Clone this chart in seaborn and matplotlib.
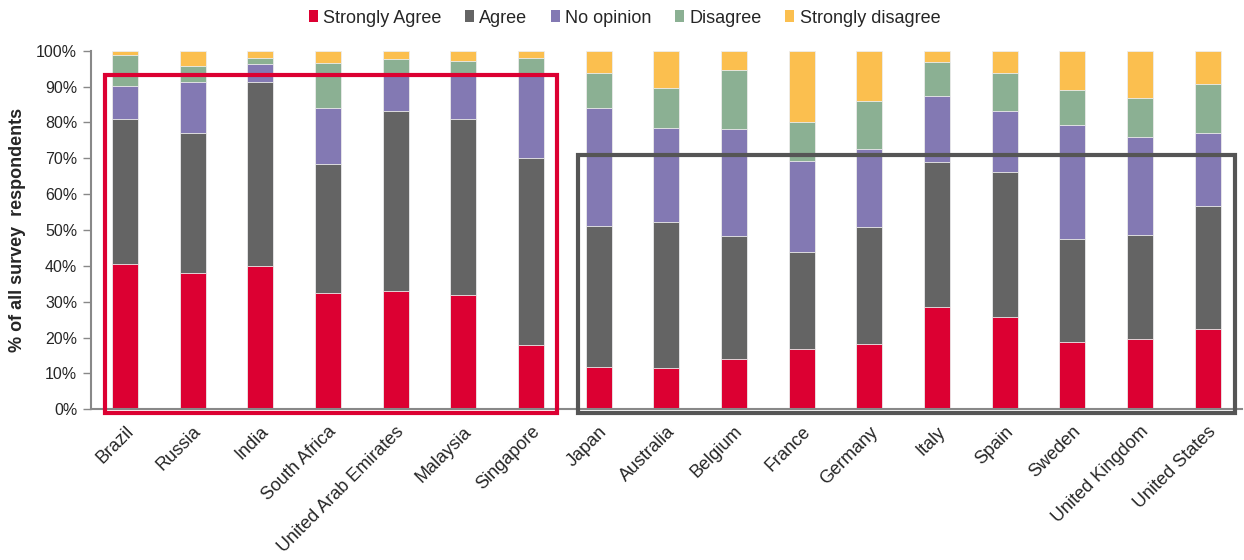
import numpy as np
import pandas as pd
import matplotlib
matplotlib.use("Agg")
import matplotlib.pyplot as plt
from matplotlib.patches import Patch, Rectangle
import seaborn as sns

countries = ["Brazil", "Russia", "India", "South Africa", "United Arab Emirates",
             "Malaysia", "Singapore", "Japan", "Australia", "Belgium", "France",
             "Germany", "Italy", "Spain", "Sweden", "United Kingdom", "United States"]

strongly_agree = [40.6, 37.9, 39.9, 32.5, 32.9, 31.8, 17.8, 11.9, 11.6, 13.9,
                  16.9, 18.1, 28.6, 25.8, 18.9, 19.7, 22.5]
agree = [40.3, 39.2, 51.5, 36.0, 50.4, 49.1, 52.4, 39.2, 40.7, 34.5,
         26.9, 32.6, 40.4, 40.5, 28.7, 29.0, 34.3]
no_opinion = [9.3, 14.3, 5.0, 15.6, 9.7, 12.0, 23.0, 33.0, 26.2, 29.9,
              25.3, 21.8, 18.5, 17.0, 31.8, 27.2, 20.3]
disagree = [8.6, 4.4, 1.6, 12.4, 4.7, 4.3, 4.8, 9.7, 11.0, 16.3,
            11.1, 13.6, 9.4, 10.5, 9.7, 11.0, 13.7]
strongly_disagree = [1.2, 4.2, 2.0, 3.5, 2.3, 2.8, 2.0, 6.2, 10.5, 5.4,
                     19.8, 13.9, 3.1, 6.2, 10.9, 13.1, 9.2]

series_names = ["Strongly Agree", "Agree", "No opinion", "Disagree", "Strongly disagree"]
series_colors = ["#DC0032", "#646464", "#8379B3", "#8BB093", "#FBBF4F"]

sns.set_theme(style="white")
plt.rcParams["font.family"] = ["Liberation Sans", "DejaVu Sans"]

df = pd.DataFrame({
    "country": countries,
    "Strongly Agree": strongly_agree,
    "Agree": agree,
    "No opinion": no_opinion,
    "Disagree": disagree,
    "Strongly disagree": strongly_disagree,
})
cum = df[series_names].cumsum(axis=1)

fig = plt.figure(figsize=(12.44, 5.6), dpi=100)
ax = fig.add_axes([0.0732, 0.2691, 0.9248, 0.6404])

# stacked bars: draw cumulative totals from the top segment down
for name, color in reversed(list(zip(series_names, series_colors))):
    sns.barplot(x=df["country"], y=cum[name], color=color, width=0.385,
                saturation=1, edgecolor="#EDEDED", linewidth=0.6, ax=ax, zorder=2)

ax.set_xlim(-0.5, len(countries) - 0.5)
ax.set_ylim(0, 100)
ax.set_yticks(np.arange(0, 101, 10))
ax.set_yticklabels([f"{v}%" for v in range(0, 101, 10)], fontsize=11.5)
ax.set_xticks(range(len(countries)))
ax.set_xticklabels(countries, rotation=45, ha="right", va="top",
                   rotation_mode="anchor", fontsize=13)
ax.set_xticks(np.arange(-0.5, len(countries), 1.0), minor=True)
ax.tick_params(axis="x", which="major", length=0, pad=10)
ax.tick_params(axis="x", which="minor", length=4, color="#888888", width=1)
ax.tick_params(axis="y", length=6, color="#888888", width=1, pad=4, left=True)
ax.set_xlabel("")
ax.set_ylabel("% of all survey  respondents", fontsize=13, fontweight="bold", labelpad=7)
for s in ["top", "right"]:
    ax.spines[s].set_visible(False)
for s in ["left", "bottom"]:
    ax.spines[s].set_color("#888888")
    ax.spines[s].set_linewidth(1.5)

# highlight frames around the two country groups
ax.add_patch(Rectangle((-0.293, -1.0), 6.676, 94.2, fill=False, edgecolor="#DC0032",
                       linewidth=3, clip_on=False, zorder=5))
ax.add_patch(Rectangle((6.69, -1.0), 9.72, 72.0, fill=False, edgecolor="#555555",
                       linewidth=3, clip_on=False, zorder=5))

handles = [Patch(facecolor=c, edgecolor="none", label=n)
           for n, c in zip(series_names, series_colors)]
fig.legend(handles=handles, loc="upper center", bbox_to_anchor=(0.502, 1.012), ncol=5,
           frameon=False, fontsize=13, handlelength=0.5, handleheight=0.6,
           handletextpad=0.3, columnspacing=1.3)

fig.savefig("out.png", dpi=100)
